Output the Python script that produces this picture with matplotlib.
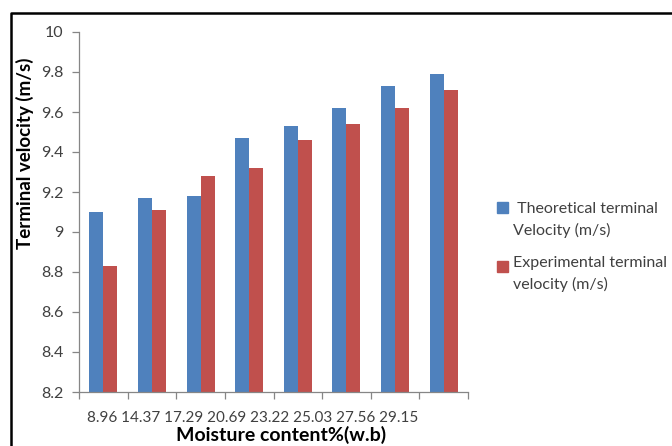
import numpy as np
import matplotlib.pyplot as plt
from matplotlib.patches import Rectangle
from matplotlib.lines import Line2D

plt.rcParams['font.family'] = ['Lato', 'DejaVu Sans']

# moisture content categories (% w.b) and terminal velocities (m/s)
moisture = ['8.96', '14.37', '17.29', '20.69', '23.22', '25.03', '27.56', '29.15']
theoretical = [9.10, 9.17, 9.18, 9.47, 9.53, 9.62, 9.73, 9.79]
experimental = [8.83, 9.11, 9.28, 9.32, 9.46, 9.54, 9.62, 9.71]
yticks = [8.2, 8.4, 8.6, 8.8, 9.0, 9.2, 9.4, 9.6, 9.8, 10.0]
legend_lines = [[' Theoretical terminal', 'Velocity (m/s)'],
                ['Experimental terminal', 'velocity (m/s)']]

W, H = 672, 446
blue = '#4F81BD'
red = '#C0504D'
txt = '#404040'
axis_grey = '#868686'


def fx(x):
    return x / W


def fy(y):
    return 1 - y / H


fig = plt.figure(figsize=(W / 100, H / 100), dpi=100)
ax = fig.add_axes([fx(79), fy(392), (468 - 79) / W, (392 - 32) / H])

x = np.arange(len(moisture))
bw = 0.288
ax.bar(x - bw / 2, theoretical, bw, color=blue)
ax.bar(x + bw / 2, experimental, bw, color=red)

ax.set_xlim(-0.5, len(moisture) - 0.5)
ax.set_ylim(8.2, 10)
ax.set_yticks(yticks)
ax.set_yticklabels([f"{v:g}" for v in yticks])
ax.set_xticks(np.arange(len(moisture) + 1) - 0.5)
ax.set_xticklabels([])

for s in ['top', 'right']:
    ax.spines[s].set_visible(False)
for s in ['left', 'bottom']:
    ax.spines[s].set_color(axis_grey)
    ax.spines[s].set_linewidth(0.9)
ax.tick_params(axis='y', colors=axis_grey, labelcolor=txt, labelsize=11.5,
               length=5, width=0.9, pad=6)
ax.tick_params(axis='x', colors=axis_grey, length=5, width=0.9)

# category labels written out as one line under the axis
fig.text(fx(87), fy(422), ' '.join(moisture), fontsize=11, color=txt,
         ha='left', va='baseline')

fig.text(fx(25), fy(153), 'Terminal velocity (m/s)', rotation=90,
         fontsize=13.5, fontweight='bold', color='black',
         ha='center', va='center')
fig.text(fx(281), fy(426), 'Moisture content%(w.b)', fontsize=14,
         fontweight='bold', color='black', ha='center', va='top')

# legend: colour square + two wrapped lines per series
for (sq_top, base), color, lines in zip([(202, 213), (261, 267)],
                                        [blue, red], legend_lines):
    fig.add_artist(Rectangle((fx(497), fy(sq_top + 11)), 11 / W, 11 / H,
                             transform=fig.transFigure, color=color))
    for k, line in enumerate(lines):
        fig.text(fx(513), fy(base + 21.5 * k), line, fontsize=11.5,
                 color=txt, ha='left', va='baseline')

# outer border on the left and top
fig.add_artist(Line2D([fx(11), fx(11), fx(672)], [fy(446), fy(13), fy(13)],
                      transform=fig.transFigure, color='black', lw=1.8))

fig.savefig('out.png', dpi=100)
